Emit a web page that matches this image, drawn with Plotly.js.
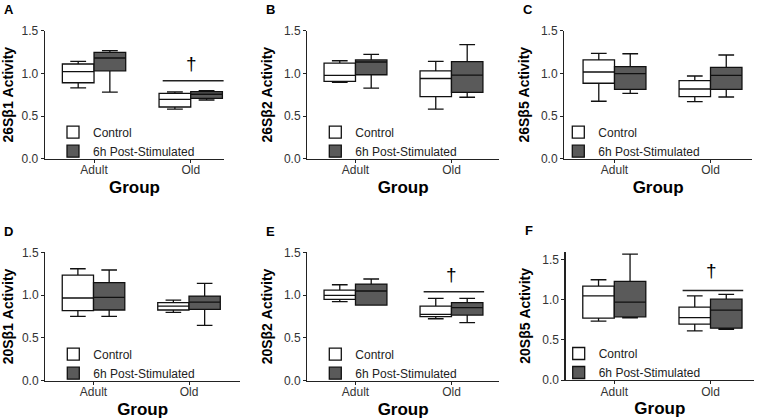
<!DOCTYPE html>
<html>
<head>
<meta charset="utf-8">
<script src="https://cdn.plot.ly/plotly-3.0.1.min.js"></script>
<style>
  html, body { margin: 0; padding: 0; background: #fff; }
  #chart { width: 761px; height: 420px; }
</style>
</head>
<body>
<div id="chart"></div>
<script>
/* ---------------------------------------------------------------
 * Proteasome activity, Adult vs Old, control vs 6h post-stimulated
 * ------------------------------------------------------------- */

// categories and panel labels
const groups = ["Adult", "Old"];
const panelLetters = ["A", "B", "C", "D", "E", "F"];
const yTitles = [
    "26Sβ1 Activity", "26Sβ2 Activity", "26Sβ5 Activity",
    "20Sβ1 Activity", "20Sβ2 Activity", "20Sβ5 Activity"
];
const seriesNames = ["Control", "6h Post-Stimulated"];

// box statistics per panel: [Adult, Old]
const ctrlLow  = [[0.83, 0.582], [0.895, 0.58], [0.673, 0.668], [0.752, 0.798], [0.923, 0.724], [0.733, 0.613]];
const ctrlQ1   = [[0.89, 0.606], [0.907, 0.727], [0.884, 0.727], [0.818, 0.826], [0.95, 0.748], [0.771, 0.696]];
const ctrlMed  = [[1.02, 0.696], [0.977, 0.94], [1.016, 0.817], [0.966, 0.872], [0.997, 0.775], [1.05, 0.779]];
const ctrlQ3   = [[1.11, 0.766], [1.12, 1.03], [1.157, 0.914], [1.234, 0.911], [1.059, 0.872], [1.171, 0.908]];
const ctrlHigh = [[1.14, 0.782], [1.148, 1.14], [1.235, 0.969], [1.308, 0.942], [1.121, 0.962], [1.25, 1.05]];

const stimLow  = [[0.78, 0.688], [0.828, 0.72], [0.766, 0.723], [0.752, 0.646], [0.884, 0.678], [0.775, 0.633]];
const stimQ1   = [[1.03, 0.708], [0.984, 0.778], [0.813, 0.813], [0.826, 0.833], [0.884, 0.767], [0.788, 0.646]];
const stimMed  = [[1.18, 0.755], [1.133, 0.98], [0.996, 0.977], [0.973, 0.919], [1.048, 0.853], [0.971, 0.871]];
const stimQ3   = [[1.247, 0.785], [1.157, 1.137], [1.078, 1.071], [1.145, 0.989], [1.129, 0.911], [1.229, 1.008]];
const stimHigh = [[1.266, 0.797], [1.223, 1.336], [1.23, 1.215], [1.293, 1.137], [1.188, 0.962], [1.571, 1.067]];

// significance bar over Old (null = none) and dagger height
const sigLevel = [0.914, null, null, null, 1.04, 1.117];
const daggerY  = [1.113, null, null, null, 1.24, 1.36];
const yMax     = [1.5, 1.5, 1.5, 1.5, 1.5, 1.6];

/* ---------------------------------------------------------------
 * Layout geometry (pixels in a 761x420 canvas)
 * ------------------------------------------------------------- */
const W = 761, H = 420;
const plotBoxes = [
    // [left, right, top, bottom]
    [45, 224, 30.7, 158.7],
    [307.3, 499, 30.7, 158.7],
    [564.3, 752, 30.7, 158.7],
    [45.3, 240, 252.3, 380.7],
    [307.3, 499, 252.3, 380.7],
    [565.7, 754, 251.7, 380]
];
const xRanges = [
    [-0.507, 1.344], [-0.502, 1.495], [-0.523, 1.432],
    [-0.505, 1.534], [-0.502, 1.495], [-0.505, 1.452]
];
const legendShift = [4, 4, -10, 4, 4, -11];

const FONT = "Liberation Sans, Arial, sans-serif";
const CTRL_FILL = "#ffffff";
const STIM_FILL = "#5a5a5a";

function px2x(p) { return p / W; }
function px2y(p) { return 1 - p / H; }

const traces = [];
const layout = {
    width: W,
    height: H,
    margin: { l: 0, r: 0, t: 0, b: 0 },
    paper_bgcolor: "#fff",
    plot_bgcolor: "#fff",
    font: { family: FONT, size: 12, color: "#333" },
    boxmode: "group",
    boxgap: 0.345,
    boxgroupgap: 0,
    showlegend: true,
    shapes: [],
    annotations: []
};

for (let i = 0; i < 6; i++) {
    const n = i === 0 ? "" : String(i + 1);
    const b = plotBoxes[i];
    const legendKey = "legend" + n;

    const stats = [
        [ctrlLow[i], ctrlQ1[i], ctrlMed[i], ctrlQ3[i], ctrlHigh[i], CTRL_FILL],
        [stimLow[i], stimQ1[i], stimMed[i], stimQ3[i], stimHigh[i], STIM_FILL]
    ];
    stats.forEach((s, k) => {
        traces.push({
            type: "box",
            name: seriesNames[k],
            x: groups,
            lowerfence: s[0],
            q1: s[1],
            median: s[2],
            q3: s[3],
            upperfence: s[4],
            fillcolor: s[5],
            line: { color: "#111", width: 1.3 },
            whiskerwidth: 0.5,
            boxpoints: false,
            hoverinfo: "skip",
            alignmentgroup: "panel" + i,
            offsetgroup: "s" + k,
            xaxis: "x" + n,
            yaxis: "y" + n,
            legend: legendKey
        });
    });

    layout["xaxis" + n] = {
        domain: [px2x(b[0]), px2x(b[1])],
        anchor: "y" + n,
        type: "category",
        range: xRanges[i],
        showgrid: false,
        zeroline: false,
        showline: true,
        linecolor: "#222",
        linewidth: 1.3,
        ticks: "outside",
        ticklen: 3,
        tickcolor: "#222",
        ticklabelstandoff: -3,
        tickfont: { family: FONT, size: 12, color: "#333" },
        title: {
            text: "Group",
            font: { family: FONT, size: 17, color: "#000", weight: "bold" },
            standoff: 4
        },
        fixedrange: true
    };
    layout["yaxis" + n] = {
        domain: [px2y(b[3]), px2y(b[2])],
        anchor: "x" + n,
        range: [0, yMax[i]],
        dtick: 0.5,
        tickformat: ".1f",
        showgrid: false,
        zeroline: false,
        showline: true,
        linecolor: "#222",
        linewidth: 1.3,
        ticks: "outside",
        ticklen: 3,
        tickcolor: "#222",
        tickfont: { family: FONT, size: 12, color: "#333" },
        title: {
            text: yTitles[i],
            font: { family: FONT, size: 14, color: "#000", weight: "bold" },
            standoff: 8
        },
        fixedrange: true
    };

    layout[legendKey] = {
        x: px2x(b[0] + legendShift[i] + 4),
        y: px2y(b[3] - 41),
        xanchor: "left",
        yanchor: "top",
        bgcolor: "rgba(0,0,0,0)",
        font: { family: FONT, size: 12, color: "#222" },
        itemwidth: 30,
        traceorder: "normal"
    };

    // panel letter
    layout.annotations.push({
        xref: "paper", yref: "paper",
        x: px2x(b[0] - 43), y: px2y(b[2] - 21),
        xanchor: "left", yanchor: "middle",
        text: panelLetters[i],
        showarrow: false,
        font: { family: FONT, size: 13, color: "#000", weight: "bold" }
    });

    if (sigLevel[i] !== null) {
        layout.shapes.push({
            type: "line",
            xref: "x" + n, yref: "y" + n,
            x0: 1 - 0.29, x1: 1 + 0.34,
            y0: sigLevel[i], y1: sigLevel[i],
            line: { color: "#222", width: 1.4 }
        });
        layout.annotations.push({
            xref: "x" + n, yref: "y" + n,
            x: groups[1], y: daggerY[i],
            xshift: 0.5,
            text: "†",
            showarrow: false,
            font: { family: FONT, size: 19, color: "#000000" }
        });
    }
}

document.addEventListener("DOMContentLoaded", () => {
    Plotly.newPlot("chart", traces, layout, { staticPlot: true, displayModeBar: false });
});
</script>
</body>
</html>
